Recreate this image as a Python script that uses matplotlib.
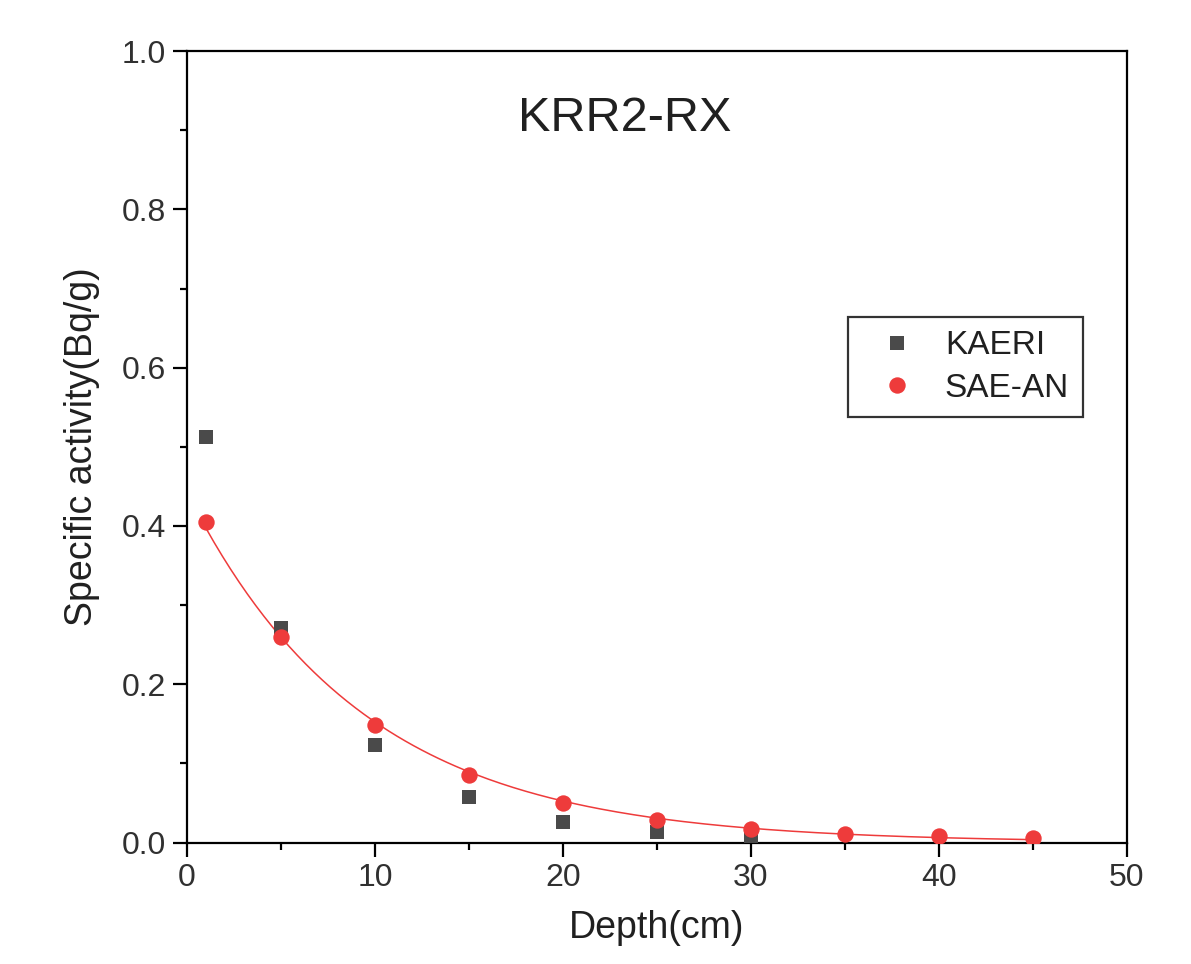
import numpy as np
import matplotlib
matplotlib.use("Agg")
from matplotlib import pyplot as plt
from matplotlib.ticker import MultipleLocator

# values
kaeri_depth = [1, 5, 10, 15, 20, 25, 30]
kaeri_act = [0.512, 0.271, 0.123, 0.058, 0.026, 0.013, 0.008]

saean_depth = [1, 5, 10, 15, 20, 25, 30, 35, 40, 45]
saean_act = [0.405, 0.260, 0.149, 0.0855, 0.050, 0.028, 0.017, 0.011, 0.008, 0.006]

title = "KRR2-RX"
xlabel = "Depth(cm)"
ylabel = "Specific activity(Bq/g)"

plt.rcParams['font.family'] = ['Liberation Sans', 'DejaVu Sans']

fig = plt.figure(figsize=(11.91, 9.64), dpi=100)
ax = fig.add_axes([0.157, 0.126, 0.789, 0.821])

# exponential fit of the SAE-AN points (log-linear, weighted)
x = np.array(saean_depth, dtype=float)
y = np.array(saean_act, dtype=float)
k, lnA = np.polyfit(x, np.log(y), 1, w=np.sqrt(y))
xf = np.linspace(x.min(), x.max(), 200)
ax.plot(xf, np.exp(lnA) * np.exp(k * xf), color='#ee3b3b', lw=1.1, zorder=2)

ax.plot(kaeri_depth, kaeri_act, 's', color='#4a4a4a', ms=10, mew=0,
        label='KAERI', zorder=3)
ax.plot(saean_depth, saean_act, 'o', color='#ee3b3b', ms=11.8, mew=0,
        label='SAE-AN', zorder=4)

ax.set_xlim(0, 50)
ax.set_ylim(0, 1.0)
ax.xaxis.set_major_locator(MultipleLocator(10))
ax.xaxis.set_minor_locator(MultipleLocator(5))
ax.yaxis.set_major_locator(MultipleLocator(0.2))
ax.yaxis.set_minor_locator(MultipleLocator(0.1))
ax.yaxis.set_major_formatter(matplotlib.ticker.FormatStrFormatter('%.1f'))

for s in ax.spines.values():
    s.set_linewidth(1.6)
ax.tick_params(which='major', direction='out', length=10, width=1.6,
               labelsize=23, pad=5, top=False, right=False,
               labelcolor='#303030')
ax.tick_params(which='minor', direction='out', length=5, width=1.6,
               top=False, right=False)

ax.set_xlabel(xlabel, fontsize=27, labelpad=12, color='#202020')
ax.set_ylabel(ylabel, fontsize=27, labelpad=16, color='#202020')

ax.text(23.3, 0.915, title, fontsize=35, ha='center', va='center',
        transform=ax.get_xaxis_transform(), color='#202020')

leg = ax.legend(loc='upper left', bbox_to_anchor=(0.703, 0.664),
                fontsize=24, frameon=True, fancybox=False, edgecolor='black',
                borderpad=0.4, handletextpad=0.35, labelspacing=0.35,
                handlelength=2.17, borderaxespad=0)
leg.get_frame().set_linewidth(1.6)
for t in leg.get_texts():
    t.set_color('#202020')

fig.savefig('out.png', dpi=100)
